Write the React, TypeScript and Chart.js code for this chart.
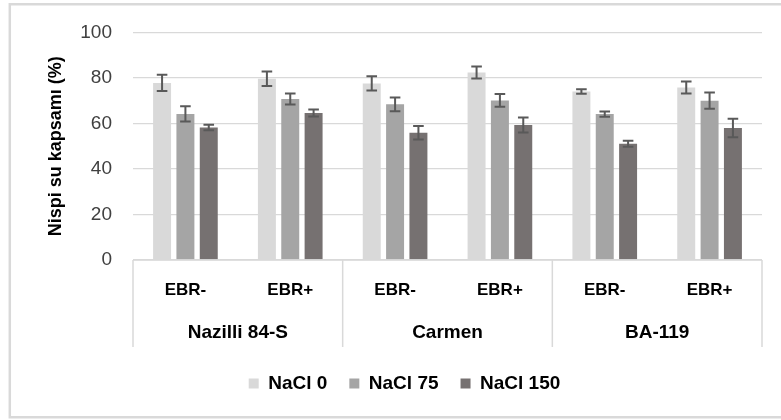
import React, { useEffect, useRef } from 'react';
import { Chart, registerables } from 'chart.js';

Chart.register(...registerables);

// ---- data ----
const cultivars = ['Nazilli 84-S', 'Carmen', 'BA-119'];
const treatments = ['EBR-', 'EBR+'];
const seriesNames = ['NaCl 0', 'NaCl 75', 'NaCl 150'];
const nacl0 = [77.8, 79.6, 77.6, 82.4, 74.0, 75.8];
const nacl75 = [64.2, 70.7, 68.4, 70.1, 64.1, 70.0];
const nacl150 = [58.2, 64.6, 55.9, 59.3, 51.1, 58.0];
const err0 = [3.6, 3.2, 3.1, 2.6, 1.0, 2.6];
const err75 = [3.4, 2.4, 3.0, 2.8, 1.2, 3.6];
const err150 = [1.2, 1.5, 3.0, 3.3, 1.3, 4.1];
const yTitle = 'Nispi su kapsamı (%)';
const yMin = 0;
const yMax = 100;
const yStep = 20;

const colors = ['#D9D9D9', '#A5A5A5', '#767171'];
const FONT = "'Liberation Sans', Arial, sans-serif";

const categories: string[] = [];
cultivars.forEach(() => treatments.forEach((t) => categories.push(t)));

const frameBorder = {
  id: 'frameBorder',
  beforeDraw(chart: any) {
    const ctx = chart.ctx;
    ctx.save();
    ctx.strokeStyle = '#D9D9D9';
    ctx.lineWidth = 2.5;
    ctx.beginPath();
    ctx.moveTo(790, 4.2);
    ctx.lineTo(9.8, 4.2);
    ctx.lineTo(9.8, 417.3);
    ctx.lineTo(790, 417.3);
    ctx.stroke();
    ctx.restore();
  },
};

const errorBars = {
  id: 'errorBars',
  afterDatasetsDraw(chart: any) {
    const ctx = chart.ctx;
    const y = chart.scales.y;
    ctx.save();
    ctx.strokeStyle = '#595959';
    ctx.lineWidth = 2;
    chart.data.datasets.forEach((ds: any, di: number) => {
      const meta = chart.getDatasetMeta(di);
      meta.data.forEach((bar: any, i: number) => {
        const v = ds.data[i];
        const e = ds.errors[i];
        const top = y.getPixelForValue(v + e);
        const bot = y.getPixelForValue(v - e);
        const x = bar.x;
        const cap = 5.3;
        ctx.beginPath();
        ctx.moveTo(x, top);
        ctx.lineTo(x, bot);
        ctx.moveTo(x - cap, top);
        ctx.lineTo(x + cap, top);
        ctx.moveTo(x - cap, bot);
        ctx.lineTo(x + cap, bot);
        ctx.stroke();
      });
    });
    ctx.restore();
  },
};

const groupAxis = {
  id: 'groupAxis',
  afterDraw(chart: any) {
    const ctx = chart.ctx;
    const x = chart.scales.x;
    const base = chart.chartArea.bottom;
    const lineEnd = 347;
    ctx.save();
    ctx.strokeStyle = '#D9D9D9';
    ctx.lineWidth = 1.5;
    ctx.beginPath();
    ctx.moveTo(x.left, base);
    ctx.lineTo(x.right, base);
    const n = treatments.length;
    for (let g = 0; g <= cultivars.length; g++) {
      const px = x.getPixelForValue(g * n - 0.5);
      ctx.moveTo(px, base);
      ctx.lineTo(px, lineEnd);
    }
    ctx.stroke();
    ctx.fillStyle = '#000000';
    ctx.font = `bold 19px ${FONT}`;
    ctx.textAlign = 'center';
    ctx.textBaseline = 'middle';
    cultivars.forEach((c, g) => {
      const px = x.getPixelForValue(g * n + (n - 1) / 2);
      ctx.fillText(c, px, 333);
    });
    ctx.restore();
  },
};

export default function App() {
  const ref = useRef<HTMLCanvasElement | null>(null);
  useEffect(() => {
    if (!ref.current) return;
    const data = [nacl0, nacl75, nacl150];
    const errs = [err0, err75, err150];
    const chart = new Chart(ref.current, {
      type: 'bar',
      data: {
        labels: categories,
        datasets: seriesNames.map((name, i) => ({
          label: name,
          data: data[i],
          errors: errs[i],
          backgroundColor: colors[i],
          borderWidth: 0,
          categoryPercentage: 0.668,
          barPercentage: 0.77,
        })) as any,
      },
      options: {
        responsive: false,
        animation: false,
        devicePixelRatio: 1,
        layout: { padding: { left: 47, right: 19, top: 32, bottom: 17 } },
        plugins: {
          legend: {
            position: 'bottom',
            labels: {
              boxWidth: 10,
              boxHeight: 10,
              padding: 22,
              color: '#000000',
              font: { family: FONT, size: 19, weight: 'bold' },
            },
          },
          tooltip: { enabled: false },
          title: { display: false },
        },
        scales: {
          x: {
            offset: true,
            grid: { display: false, drawTicks: false },
            border: { display: false },
            ticks: {
              color: '#000000',
              padding: 20,
              font: { family: FONT, size: 17, weight: 'bold' },
              maxRotation: 0,
              autoSkip: false,
            },
            afterFit: (s: any) => {
              s.height = 92;
            },
          },
          y: {
            min: yMin,
            max: yMax,
            ticks: {
              stepSize: yStep,
              color: '#404040',
              padding: 21,
              font: { family: FONT, size: 19 },
            },
            grid: { color: '#D9D9D9', lineWidth: 1.3, drawTicks: false },
            border: { display: false },
            title: {
              display: true,
              text: yTitle,
              color: '#000000',
              padding: 0,
              font: { family: FONT, size: 18, weight: 'bold', lineHeight: 1 },
            },
            afterFit: (s: any) => {
              s.width = 86;
            },
          },
        },
      } as any,
      plugins: [frameBorder, errorBars, groupAxis],
    });
    return () => chart.destroy();
  }, []);
  return (
    <canvas
      ref={ref}
      width={781}
      height={420}
      style={{ position: 'absolute', left: 0, top: 0, display: 'block' }}
    />
  );
}
